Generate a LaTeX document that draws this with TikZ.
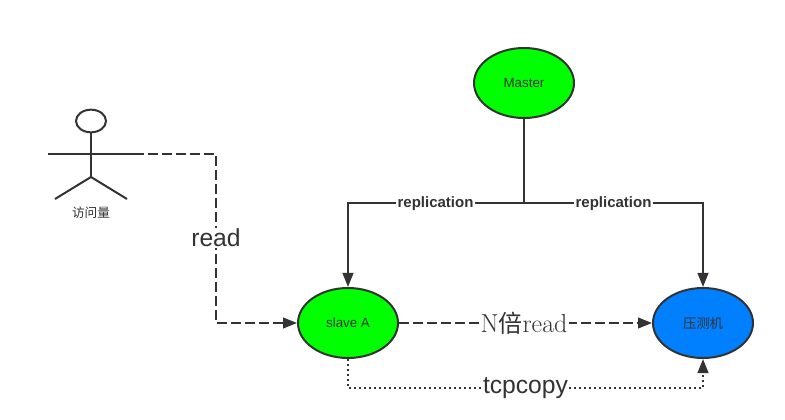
\documentclass[tikz,border=0pt]{standalone}
\usepackage{fontspec}
\setmainfont{Liberation Sans}
\newfontfamily\cjk{Noto Sans CJK SC}
\newfontfamily\lmserif{Latin Modern Roman}
\usetikzlibrary{arrows.meta,shapes.geometric}
\definecolor{ink}{HTML}{333333}
\definecolor{bluefill}{HTML}{0080FF}
\definecolor{greenfill}{HTML}{00FF00}
\tikzset{
  oval/.style={ellipse,draw=ink,line width=1.5pt,minimum width=75pt,minimum height=52.5pt,inner sep=0pt,text=ink,font=\fontsize{10}{11}\selectfont},
  conn/.style={draw=ink,line width=1.5pt,-{Triangle[length=10.5pt,width=8pt]}},
  plainconn/.style={draw=ink,line width=1.5pt},
  dashconn/.style={conn,dash pattern=on 7.5pt off 3pt},
  dotconn/.style={conn,dash pattern=on 1.5pt off 2.25pt},
  lab/.style={fill=white,inner sep=1pt,text=ink},
  big/.style={lab,font=\fontsize{18.5}{20}\selectfont},
  rep/.style={lab,font=\bfseries\fontsize{11.25}{13}\selectfont},
}
\begin{document}
\begin{tikzpicture}[x=0.75pt,y=-0.75pt]
\useasboundingbox (0,0) rectangle (785,420);
\node[oval,fill=greenfill] (master) at (524,83) {Master};
\node[oval,fill=greenfill] (slave) at (348,323) {slave A};
\node[oval,fill=bluefill] (press) at (703,323) {{\cjk 压测机}};
% actor
\node[ellipse,draw=ink,line width=1.5pt,fill=white,minimum width=22.5pt,minimum height=17pt,inner sep=0pt] (head) at (91,121) {};
\coordinate (hip) at (91,177);
\coordinate (armL) at (48,154);
\coordinate (armR) at (134,154);
\coordinate (legL) at (55,199);
\coordinate (legR) at (127,199);
\draw[plainconn] (head.south) -- (hip);
\draw[plainconn] (armL) -- (armR);
\draw[plainconn] (legL) -- (hip) -- (legR);
\node[text=ink,font=\cjk\fontsize{9.5}{11}\selectfont] (actorlab) at (91,213) {访问量};
% junction
\coordinate (junction) at (524,203);
\coordinate (kneeL) at (slave.north |- junction);
\coordinate (kneeR) at (press.north |- junction);
\draw[plainconn] (master.south) -- (junction);
\draw[conn] (junction) -- (kneeL) -- (slave.north);
\draw[conn] (junction) -- (kneeR) -- (press.north);
\node[rep] (rep1) at (435.5,204) {replication};
\node[rep] (rep2) at (613.5,204) {replication};
% read
\coordinate (k1) at (216,154);
\coordinate (k2) at (216,323);
\draw[dashconn] (armR) -- (k1) -- (k2) -- (slave.west);
\node[big] (readlab) at (216,238) {read};
% N x read
\draw[dashconn] (slave.east) -- (press.west);
\node[lab,font=\lmserif\fontsize{19.5}{20}\selectfont,text=ink] (nread) at (524,323) {N{\cjk\fontsize{18}{20}\selectfont 倍}read};
% tcpcopy
\coordinate (k3) at (slave.south |- 0,388);
\coordinate (k4) at (press.south |- 0,388);
\draw[dotconn] (slave.south) -- (k3) -- (k4) -- (press.south);
\node[big] (tcp) at (525.5,388) {tcpcopy};
\end{tikzpicture}
\end{document}
